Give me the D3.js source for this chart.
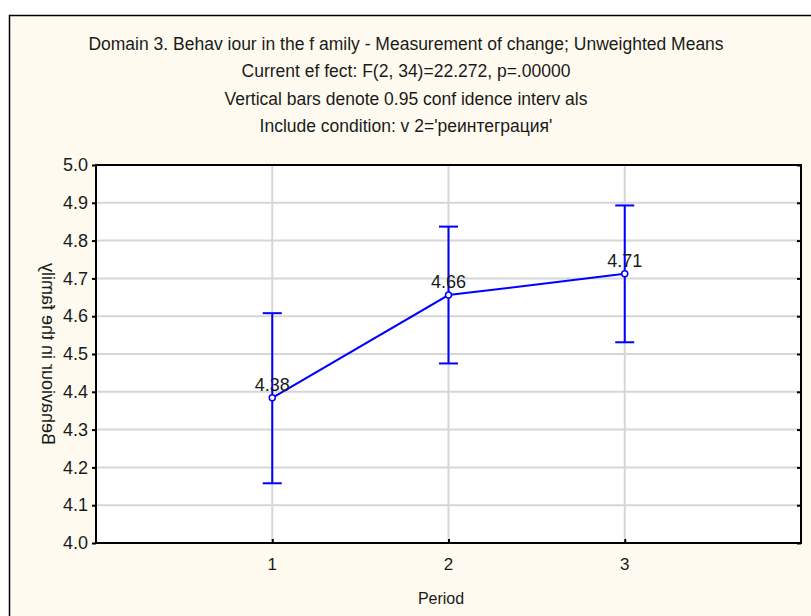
<!DOCTYPE html>
<html><head><meta charset="utf-8">
<script src="https://cdn.jsdelivr.net/npm/d3@7"></script>
<style>
html,body{margin:0;padding:0;background:#fff;}
svg{display:block;}
text{font-family:"Liberation Sans", Arial, sans-serif;fill:#1a1a1a;}
</style></head>
<body>
<script>
const periods = [1, 2, 3];
const means = [4.384, 4.656, 4.712];
const upper = [4.608, 4.837, 4.893];
const lower = [4.158, 4.475, 4.531];
const yTicks = [4.0, 4.1, 4.2, 4.3, 4.4, 4.5, 4.6, 4.7, 4.8, 4.9, 5.0];
const titleLines = [
  "Domain 3. Behav iour in the f amily - Measurement of  change; Unweighted Means",
  "Current ef fect: F(2, 34)=22.272, p=.00000",
  "Vertical bars denote 0.95 conf idence interv als",
  "Include condition: v 2='реинтеграция'"
];
const xLabel = "Period";
const yLabel = "Behaviour in the family";

const W = 811, H = 616;
const FONT = '"Liberation Sans", Arial, sans-serif';
const svg = d3.select("body").append("svg").attr("width", W).attr("height", H);

// outer frame (extends past window on right/bottom)
svg.append("rect").attr("x", 0).attr("y", 0).attr("width", W).attr("height", H).attr("fill", "#fff");
svg.append("rect").attr("x", 9.5).attr("y", 15.5).attr("width", W + 20).attr("height", H + 20)
  .attr("fill", "#fefaef").attr("stroke", "#000").attr("stroke-width", 1.5);

const L = 96, R = 801, T = 165, B = 543;
const x = d3.scaleLinear().domain([0, 4]).range([L, R]);
const y = d3.scaleLinear().domain([4.0, 5.0]).range([B, T]);

svg.append("rect").attr("x", L).attr("y", T).attr("width", R - L).attr("height", B - T).attr("fill", "#fff");

// grid
svg.append("g").selectAll("line").data(yTicks.slice(1, -1)).join("line")
  .attr("x1", L).attr("x2", R).attr("y1", d => y(d)).attr("y2", d => y(d))
  .attr("stroke", "#d6d6d6").attr("stroke-width", 2);
svg.append("g").selectAll("line").data(periods).join("line")
  .attr("y1", T).attr("y2", B).attr("x1", d => x(d)).attr("x2", d => x(d))
  .attr("stroke", "#d6d6d6").attr("stroke-width", 2);

// axes
const yAxis = d3.axisLeft(y).tickValues(yTicks).tickFormat(d3.format(".1f")).tickSize(4).tickPadding(4);
const gy = svg.append("g").attr("transform", `translate(${L},0)`).call(yAxis);
gy.select(".domain").remove();
gy.selectAll("line").attr("stroke", "#000").attr("stroke-width", 2);
gy.selectAll("text").attr("font-size", 18).attr("fill", "#1a1a1a").style("font-family", FONT);

const yAxisR = d3.axisLeft(y).tickValues(yTicks).tickSize(4).tickFormat("");
const gyr = svg.append("g").attr("transform", `translate(${R},0)`).call(yAxisR);
gyr.select(".domain").remove();
gyr.selectAll("line").attr("stroke", "#000").attr("stroke-width", 2);

const xAxis = d3.axisTop(x).tickValues(periods).tickSize(4).tickFormat("");
const gx = svg.append("g").attr("transform", `translate(0,${B})`).call(xAxis);
gx.select(".domain").remove();
gx.selectAll("line").attr("stroke", "#000").attr("stroke-width", 2);

svg.append("g").selectAll("text").data(periods).join("text")
  .attr("x", d => x(d)).attr("y", B + 27).attr("text-anchor", "middle").attr("font-size", 17)
  .text(d => d);

// plot border
svg.append("rect").attr("x", L).attr("y", T).attr("width", R - L).attr("height", B - T)
  .attr("fill", "none").attr("stroke", "#000").attr("stroke-width", 2);

// error bars
const eb = svg.append("g").attr("stroke", "#0000ff").attr("stroke-width", 2);
periods.forEach((p, i) => {
  eb.append("line").attr("x1", x(p)).attr("x2", x(p)).attr("y1", y(upper[i])).attr("y2", y(lower[i]));
  eb.append("line").attr("x1", x(p) - 9.5).attr("x2", x(p) + 9.5).attr("y1", y(upper[i])).attr("y2", y(upper[i]));
  eb.append("line").attr("x1", x(p) - 9.5).attr("x2", x(p) + 9.5).attr("y1", y(lower[i])).attr("y2", y(lower[i]));
});

// mean line
const line = d3.line().x((d, i) => x(periods[i])).y(d => y(d));
svg.append("path").datum(means).attr("d", line).attr("fill", "none").attr("stroke", "#0000ff").attr("stroke-width", 2);
svg.append("g").selectAll("circle").data(means).join("circle")
  .attr("cx", (d, i) => x(periods[i])).attr("cy", d => y(d)).attr("r", 3)
  .attr("fill", "#fff").attr("stroke", "#0000ff").attr("stroke-width", 1.5);
svg.append("g").selectAll("text").data(means).join("text")
  .attr("x", (d, i) => x(periods[i])).attr("y", d => y(d) - 7).attr("text-anchor", "middle")
  .attr("font-size", 18).text(d => d3.format(".2f")(d));

// titles
svg.append("g").selectAll("text").data(titleLines).join("text")
  .attr("x", 406).attr("y", (d, i) => 50 + i * 27.3).attr("text-anchor", "middle")
  .attr("font-size", 17.5).text(d => d);

svg.append("text").attr("x", 441).attr("y", 604).attr("text-anchor", "middle")
  .attr("font-size", 16).text(xLabel);

svg.append("text").attr("transform", `translate(42,${(T + B) / 2}) rotate(90) scale(-1,1)`)
  .attr("text-anchor", "middle").attr("font-size", 18).text(yLabel);
</script>
</body></html>
